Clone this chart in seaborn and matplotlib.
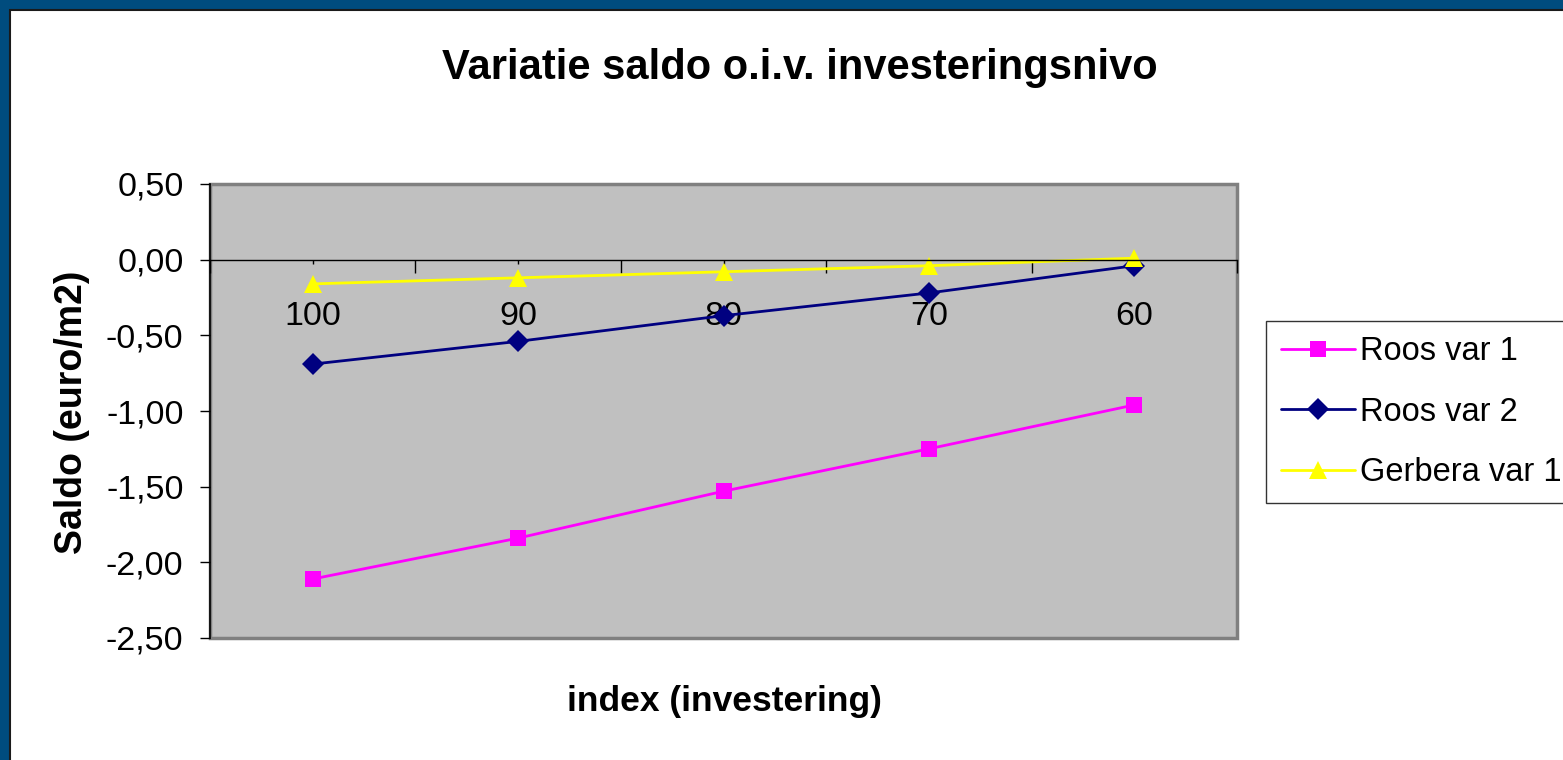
import numpy as np
import pandas as pd
import matplotlib
matplotlib.use("Agg")
import matplotlib.pyplot as plt
import seaborn as sns
from matplotlib.patches import Rectangle

# data
categories = ["100", "90", "80", "70", "60"]
roos_var1 = [-2.11, -1.84, -1.53, -1.25, -0.96]
roos_var2 = [-0.69, -0.54, -0.37, -0.22, -0.04]
gerbera_var1 = [-0.16, -0.12, -0.08, -0.04, 0.01]
series_names = ["Roos var 1", "Roos var 2", "Gerbera var 1"]
y_ticks = [0.5, 0.0, -0.5, -1.0, -1.5, -2.0, -2.5]

rows = []
for name, vals in zip(series_names, [roos_var1, roos_var2, gerbera_var1]):
    for i, v in enumerate(vals):
        rows.append({"pos": i, "saldo": v, "serie": name})
df = pd.DataFrame(rows)

sns.set_style("white")
plt.rcParams["font.family"] = ["Liberation Sans", "DejaVu Sans"]

W, H = 1563, 760
fig = plt.figure(figsize=(W / 100, H / 100), dpi=100)
fig.patch.set_facecolor("#004C7E")
fig.add_artist(Rectangle((10 / W, -0.05), 1.1, 1.05 - 10 / H, transform=fig.transFigure,
                         facecolor="white", edgecolor="#1a1a1a", lw=1.5, zorder=-1))

ax = fig.add_axes([210 / W, 1 - 638 / H, 1027 / W, 454 / H])
ax.set_facecolor("#C0C0C0")

palette = {"Roos var 1": "#FF00FF", "Roos var 2": "#000080", "Gerbera var 1": "#FFFF00"}
markers = {"Roos var 1": "s", "Roos var 2": "D", "Gerbera var 1": "^"}
msizes = {"#FF00FF": 11, "#000080": 11, "#FFFF00": 13.5}
sns.lineplot(data=df, x="pos", y="saldo", hue="serie", style="serie", markers=markers,
             dashes=False, palette=palette, markersize=11, linewidth=2,
             markeredgewidth=0, ax=ax)

ax.set_xlim(-0.5, 4.5)
ax.set_ylim(-2.5, 0.5)

# x axis sits on zero, labels below it inside the plot area
ax.spines["bottom"].set_position(("data", 0))
ax.spines["bottom"].set_color("black")
ax.spines["bottom"].set_linewidth(1)
ax.spines["left"].set_color("black")
ax.spines["left"].set_linewidth(1.2)
ax.spines["top"].set_visible(False)
ax.spines["right"].set_visible(False)
ax.add_patch(Rectangle((0, 0), 1, 1, transform=ax.transAxes, fill=False,
                       edgecolor="#808080", lw=2.5, clip_on=False, zorder=0.5))

ax.set_xticks(np.arange(-0.5, 5, 1))
ax.set_xticklabels([])
ax.set_xticks(range(len(categories)), minor=True)
ax.set_xticklabels(categories, minor=True)
ax.tick_params(axis="x", which="major", bottom=True, direction="out", length=9, width=1,
               color="black", labelbottom=False)
ax.tick_params(axis="x", which="minor", bottom=True, direction="out", length=3, width=1,
               color="black", pad=27, labelsize=24.5, labelcolor="black")

ax.set_yticks(y_ticks)
ax.set_yticklabels([f"{v:.2f}".replace(".", ",") for v in y_ticks])
ax.tick_params(axis="y", left=True, direction="out", length=7, width=1, color="black",
               pad=12, labelsize=24.5, labelcolor="black")
ax.set_xlabel("")
ax.set_ylabel("")

handles, labels = ax.get_legend_handles_labels()
ax.get_legend().remove()
for ln in list(ax.lines) + list(handles):
    c = matplotlib.colors.to_hex(ln.get_color()).upper()
    if c in msizes:
        ln.set_markersize(msizes[c])

leg = ax.legend(handles, labels, loc="upper left", bbox_to_anchor=(1266 / W, 1 - 321 / H),
                bbox_transform=fig.transFigure, frameon=True, fancybox=False,
                edgecolor="black", fontsize=23.5, handlelength=2.25, handletextpad=0.15,
                labelspacing=0.9, borderaxespad=0, borderpad=0.47)
leg.get_frame().set_linewidth(1)
for t in leg.get_texts():
    t.set_color("black")

fig.text(800 / W, 1 - 68 / H, "Variatie saldo o.i.v. investeringsnivo", ha="center",
         va="center", fontsize=30, fontweight="bold", color="black")
fig.text(724 / W, 1 - 702 / H, "index (investering)", ha="center", va="center",
         fontsize=25.5, fontweight="bold", color="black")
fig.text(72 / W, 1 - 412 / H, "Saldo (euro/m2)", ha="center", va="center", rotation=90,
         fontsize=27, fontweight="bold", color="black")

fig.savefig("out.png", dpi=100, facecolor=fig.get_facecolor())
